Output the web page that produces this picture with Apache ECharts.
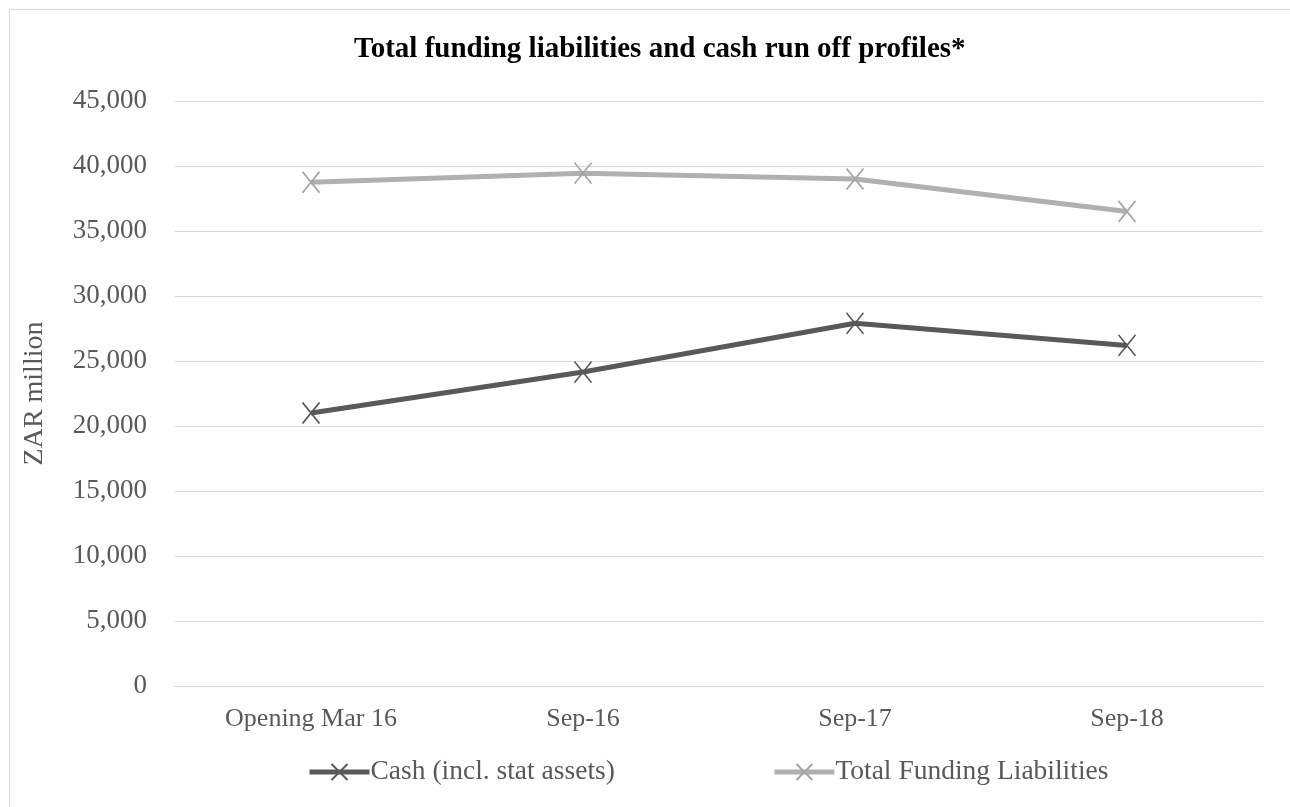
<!DOCTYPE html>
<html>
<head>
<meta charset="utf-8">
<script src="https://cdn.jsdelivr.net/npm/echarts@6/dist/echarts.min.js"></script>
<style>
html,body{margin:0;padding:0;background:#fff;}
#chart{width:1290px;height:807px;}
</style>
</head>
<body>
<div id="chart"></div>
<script>
const categories = ['Opening Mar 16', 'Sep-16', 'Sep-17', 'Sep-18'];
const cashValues = [21000, 24150, 27900, 26200];
const totalFundingValues = [38750, 39450, 39000, 36500];
const seriesNames = ['Cash (incl. stat assets)', 'Total Funding Liabilities'];
const titleText = 'Total funding liabilities and cash run off profiles*';
const yAxisName = 'ZAR million';

const serif = '"Liberation Serif", "Times New Roman", serif';
const xMark = 'path://M0,0L10,12M10,0L0,12';

const chart = echarts.init(document.getElementById('chart'));
chart.setOption({
  animation: false,
  backgroundColor: '#fff',
  graphic: [{
    type: 'rect',
    shape: {x: 9.5, y: 9.5, width: 1300, height: 820},
    style: {fill: 'none', stroke: '#d9d9d9', lineWidth: 1},
    silent: true,
    z: -1
  }],
  title: {
    text: titleText,
    left: 349,
    top: 30,
    textStyle: {fontFamily: serif, fontSize: 29, fontWeight: 'bold', color: '#000'}
  },
  grid: {left: 175, right: 27, top: 101, bottom: 121, containLabel: false},
  legend: {
    data: seriesNames,
    left: 302,
    top: 753,
    itemWidth: 60,
    itemHeight: 20,
    itemGap: 157,
    lineStyle: {width: 5},
    textStyle: {fontFamily: serif, fontSize: 27.5, color: '#595959', padding: [0, 0, 0, -4]}
  },
  xAxis: {
    type: 'category',
    data: categories,
    boundaryGap: true,
    axisLine: {show: true, lineStyle: {color: '#d9d9d9', width: 1}},
    axisTick: {show: false},
    axisLabel: {fontFamily: serif, fontSize: 26, color: '#595959', margin: 20},
    splitLine: {show: false}
  },
  yAxis: {
    type: 'value',
    min: 0,
    max: 45000,
    interval: 5000,
    name: yAxisName,
    nameLocation: 'middle',
    nameGap: 126,
    nameRotate: 90,
    nameTextStyle: {fontFamily: serif, fontSize: 28, color: '#595959'},
    axisLine: {show: false},
    axisTick: {show: false},
    axisLabel: {
      fontFamily: serif, fontSize: 27, color: '#595959', margin: 28,
      formatter: v => v.toLocaleString('en-US')
    },
    splitLine: {lineStyle: {color: '#d9d9d9', width: 1}}
  },
  series: [
    {
      name: seriesNames[0],
      type: 'line',
      data: cashValues,
      symbol: xMark,
      symbolSize: [17, 21],
      showAllSymbol: true,
      lineStyle: {color: '#595959', width: 5},
      itemStyle: {color: '#595959', borderColor: '#595959', borderWidth: 1.6},
      z: 3
    },
    {
      name: seriesNames[1],
      type: 'line',
      data: totalFundingValues,
      symbol: xMark,
      symbolSize: [17, 21],
      showAllSymbol: true,
      lineStyle: {color: '#b0b0b0', width: 5},
      itemStyle: {color: '#a5a5a5', borderColor: '#a5a5a5', borderWidth: 1.6},
      z: 2
    }
  ]
});
</script>
</body>
</html>
